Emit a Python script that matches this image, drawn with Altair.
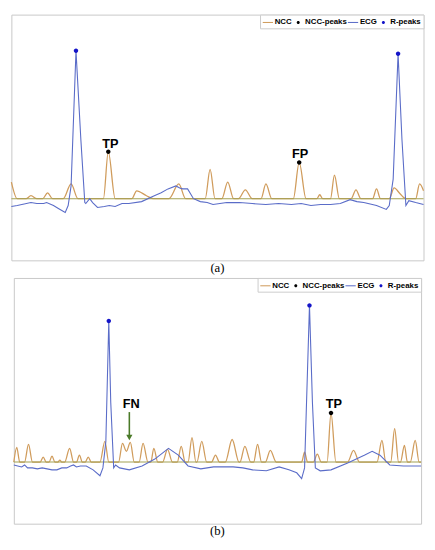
import altair as alt
import pandas as pd

# ---------------- Panel (a) ----------------
ncc_a_x = [0, 6, 15, 20, 26, 32, 37, 42, 53, 61, 68, 94, 99, 106, 123, 128, 138, 145,
           161, 171, 178, 198, 203, 208, 215, 221, 227, 232, 239, 246, 255, 260, 266,
           288, 294, 301, 312, 315, 318, 326, 330, 335, 347, 352, 357, 369, 373, 377,
           386, 391, 397, 403, 413, 417, 421]
ncc_a_y = [0.17, 0, 0, 0.03, 0, 0, 0.06, 0, 0, 0.15, 0, 0, 0.48, 0, 0, 0.08, 0.03, 0,
           0, 0.15, 0, 0, 0.30, 0, 0, 0.17, 0, 0, 0.09, 0, 0, 0.15, 0,
           0, 0.37, 0, 0, 0.04, 0, 0, 0.24, 0, 0, 0.09, 0, 0, 0.10, 0,
           0, 0.11, 0.05, 0, 0, 0.15, 0.08]

ecg_a_x = [0, 6, 20, 26, 33, 36, 43, 48, 55, 58, 61, 66, 71, 75, 76, 80, 83, 88, 95, 100,
           106, 113, 120, 133, 146, 153, 160, 168, 172, 175, 180, 186, 193, 200, 206, 213,
           220, 233, 246, 260, 273, 286, 296, 306, 316, 326, 336, 346, 353, 360, 373,
           383, 386, 390, 395, 399, 403, 406, 413, 421]
ecg_a_y = [-0.08, -0.07, -0.04, -0.05, -0.05, -0.04, -0.07, -0.10, -0.14, -0.07, 0.13,
           1.51, 0.60, -0.04, -0.05, 0.00, -0.04, -0.09, -0.08, -0.07, -0.08, -0.05, -0.05,
           -0.03, 0.03, 0.06, 0.10, 0.13, 0.11, 0.10, 0.10, 0.00, -0.03, -0.04, -0.06, -0.05,
           -0.04, -0.04, -0.05, -0.06, -0.05, -0.06, -0.05, -0.07, -0.06, -0.06, -0.05,
           -0.01, -0.03, -0.04, -0.07, -0.11, -0.07, 0.20, 1.48, 0.60, -0.07, -0.02,
           -0.04, -0.06]

nccpk_a_x = [99, 294]
nccpk_a_y = [0.48, 0.37]
rpk_a_x = [66, 395]
rpk_a_y = [1.51, 1.48]
lab_a = ["TP", "FP"]
lab_a_x = [101, 295]
lab_a_y = [0.56, 0.46]

# ---------------- Panel (b) ----------------
ncc_b_x = [0, 3, 6, 11, 15, 19, 27, 30, 33, 36, 39, 42, 45, 47, 49, 52, 57, 61, 64, 67,
           70, 73, 76, 79, 88, 93, 97, 107, 111, 115, 119, 123, 128, 132, 137, 140, 143,
           147, 152, 157, 162, 167, 171, 175, 178, 182, 186, 187, 192, 197, 202, 206, 210,
           216, 223, 230, 231, 236, 242, 245, 249, 253, 257, 262, 268, 294, 297, 300, 306,
           310, 314, 320, 324, 329, 341, 347, 353, 371, 376, 380, 385, 389, 393, 395, 399,
           402, 405, 410, 414, 416]
ncc_b_y = [0, 0.15, 0, 0, 0.18, 0, 0, 0.05, 0, 0, 0.06, 0, 0, 0.02, 0, 0, 0.14, 0, 0,
           0.07, 0, 0, 0.05, 0, 0, 0.21, 0, 0, 0.19, 0.11, 0.20, 0, 0, 0.19, 0, 0, 0.14,
           0, 0, 0.13, 0, 0, 0.16, 0, 0, 0.25, 0, 0, 0.21, 0, 0, 0.07, 0,
           0, 0.23, 0, 0, 0.16, 0, 0, 0.18, 0, 0, 0.12, 0, 0, 0.10, 0, 0,
           0.08, 0, 0, 0.50, 0, 0, 0.12, 0, 0, 0.22, 0, 0, 0.34, 0, 0, 0.17,
           0, 0, 0.22, 0, 0]

ecg_b_x = [0, 4, 8, 11, 14, 19, 24, 29, 34, 39, 44, 49, 54, 58, 61, 64, 68, 74, 81, 88,
           91, 94, 97, 99, 102, 104, 108, 118, 131, 144, 158, 168, 178, 191, 204, 214, 224,
           234, 244, 258, 271, 281, 289, 294, 297, 299, 302, 305, 308, 313, 324, 341, 358,
           366, 374, 384, 398, 408, 416]
ecg_b_y = [-0.03, -0.04, -0.05, -0.03, -0.06, -0.06, -0.07, -0.06, -0.07, -0.08, -0.08,
           -0.06, -0.06, -0.04, -0.03, -0.05, -0.04, -0.04, -0.08, -0.14, -0.06, 0.21,
           1.44, 0.61, -0.06, -0.03, -0.06, -0.08, -0.04, 0.03, 0.14, 0.07, -0.04, -0.07,
           -0.05, -0.05, -0.05, -0.06, -0.08, -0.09, -0.05, -0.08, -0.11, -0.17, -0.06,
           0.61, 1.60, 0.61, -0.06, -0.09, -0.08, -0.01, 0.07, 0.11, 0.07, -0.03, -0.04,
           -0.04, -0.04]

nccpk_b_x = [324]
nccpk_b_y = [0.50]
rpk_b_x = [97, 302]
rpk_b_y = [1.44, 1.60]
lab_b = ["FN", "TP"]
lab_b_x = [120, 327]
lab_b_y = [0.59, 0.59]
arrow_b_x = [118]
arrow_b_y1 = [0.51]
arrow_b_y2 = [0.25]

# ---------------- styling ----------------
series_names = ["NCC", "NCC-peaks", "ECG", "R-peaks"]
series_colors = ["#d09c5c", "#000000", "#5a6cc8", "#1414c8"]
line_path = "M-1,-0.1H1V0.1H-1Z"
dot_path = "M0,-0.3A0.3,0.3 0 1,1 0,0.3A0.3,0.3 0 1,1 0,-0.3Z"
series_shapes = [line_path, dot_path, line_path, dot_path]
Y_DOMAIN = [-0.63, 1.88]


def panel(ncc_x, ncc_y, ecg_x, ecg_y, pk_x, pk_y, rp_x, rp_y, labs, lx, ly,
          xmax, width, caption, arrow=None):
    xs = alt.Scale(domain=[0, xmax], nice=False, zero=False)
    ys = alt.Scale(domain=Y_DOMAIN, nice=False, zero=False)
    ncc = pd.DataFrame({"x": ncc_x, "y": ncc_y})
    ecg = pd.DataFrame({"x": ecg_x, "y": ecg_y})
    pk = pd.DataFrame({
        "x": pk_x + rp_x,
        "y": pk_y + rp_y,
        "series": ["NCC-peaks"] * len(pk_x) + ["R-peaks"] * len(rp_x),
    })
    labdf = pd.DataFrame({"x": lx, "y": ly, "t": labs})
    basedf = pd.DataFrame({"x": [0], "x2": [xmax], "y": [0]})

    X = alt.X("x:Q", scale=xs, axis=None)
    Y = alt.Y("y:Q", scale=ys, axis=None)

    ncc_line = alt.Chart(ncc).mark_line(
        interpolate="monotone", strokeWidth=1.3, color=series_colors[0]
    ).encode(x=X, y=Y)
    base_rule = alt.Chart(basedf).mark_rule(color="#a3a255", strokeWidth=1.1).encode(
        x=X, x2="x2:Q", y=Y
    )
    ecg_line = alt.Chart(ecg).mark_line(
        strokeWidth=1.1, color=series_colors[2]
    ).encode(x=X, y=Y)
    legend = alt.Legend(
        orient="top-right", direction="horizontal", title=None, offset=0,
        labelFont="Liberation Sans", labelFontSize=8, labelFontWeight="bold",
        labelColor="#000000", labelOffset=1, columnPadding=0, padding=2,
        fillColor="#ffffff", strokeColor="#cccccc", symbolSize=110,
    )
    pts = alt.Chart(pk).mark_point(filled=True, opacity=1, size=230).encode(
        x=X, y=Y,
        color=alt.Color("series:N", scale=alt.Scale(domain=series_names, range=series_colors),
                        legend=legend),
        shape=alt.Shape("series:N", scale=alt.Scale(domain=series_names, range=series_shapes),
                        legend=legend),
    )
    txt = alt.Chart(labdf).mark_text(
        font="Liberation Sans", fontSize=13, fontWeight="bold", color="#000000",
        baseline="middle", align="center"
    ).encode(x=X, y=Y, text="t:N")
    layers = [ncc_line, base_rule, ecg_line, pts, txt]
    if arrow is not None:
        adf = pd.DataFrame({"x": arrow[0], "y": arrow[1], "y2": arrow[2]})
        arr = alt.Chart(adf).mark_rule(color="#4a7a28", strokeWidth=1.6).encode(
            x=X, y=Y, y2="y2:Q"
        )
        head = alt.Chart(adf).mark_point(
            shape="triangle-down", filled=True, opacity=1, color="#4a7a28", size=40
        ).encode(x=X, y=alt.Y("y2:Q", scale=ys, axis=None))
        layers += [arr, head]
    return alt.layer(*layers).properties(
        width=width, height=251,
        title=alt.TitleParams(caption, orient="bottom", font="Liberation Serif",
                              fontSize=13, fontWeight="normal", color="#000000",
                              offset=2, anchor="middle"),
    )


pa = panel(ncc_a_x, ncc_a_y, ecg_a_x, ecg_a_y, nccpk_a_x, nccpk_a_y, rpk_a_x, rpk_a_y,
           lab_a, lab_a_x, lab_a_y, 421, 421, "(a)")
pb = panel(ncc_b_x, ncc_b_y, ecg_b_x, ecg_b_y, nccpk_b_x, nccpk_b_y, rpk_b_x, rpk_b_y,
           lab_b, lab_b_x, lab_b_y, 416, 416, "(b)",
           arrow=(arrow_b_x, arrow_b_y1, arrow_b_y2))

chart = alt.vconcat(pa, pb, spacing=1, center=True).resolve_scale(
    color="independent", shape="independent"
).properties(
    padding=0
).configure_view(stroke="#c8c8c8", strokeWidth=1)

chart.save("out.html", embed_options={"renderer": "svg", "actions": False})
